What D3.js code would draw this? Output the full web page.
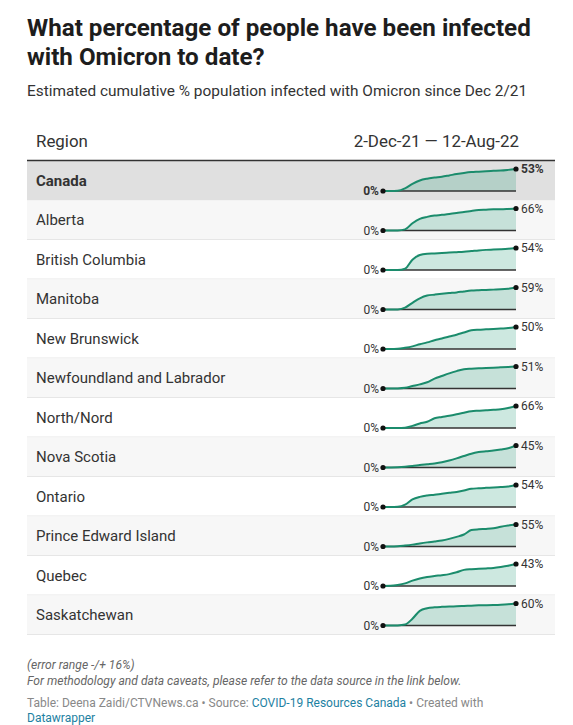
<!DOCTYPE html>
<html>
<head>
<meta charset="utf-8">
<script src="https://cdn.jsdelivr.net/npm/d3@7"></script>
<style>
  html, body { margin: 0; padding: 0; background: #fff; }
  svg { display: block; font-family: Roboto, "Noto Sans", sans-serif; }
</style>
</head>
<body>
<svg id="chart" width="573" height="725"></svg>
<script>
// ---- Data ----
const dates = ["2021-12-02","2021-12-16","2021-12-30","2022-01-13","2022-01-27","2022-02-10","2022-02-24",
  "2022-03-10","2022-03-24","2022-04-07","2022-04-21","2022-05-05","2022-05-19","2022-06-02","2022-06-16",
  "2022-06-30","2022-07-14","2022-07-28","2022-08-12"];

const regions = ["Canada","Alberta","British Columbia","Manitoba","New Brunswick","Newfoundland and Labrador",
  "North/Nord","Nova Scotia","Ontario","Prince Edward Island","Quebec","Saskatchewan"];

const canada      = [0,0,0.5,6.4,17,25.4,29.7,32.3,34.5,37.6,40.8,43.5,45.6,46.6,47.7,48.5,49.3,50.9,53];
const alberta     = [0,0,0,3.3,21.8,35,40.9,44.9,46.9,49.8,52.8,55.4,58.7,61.4,62.4,63.4,63.7,64.7,66];
const bc          = [0,0,0,3.2,25.4,36.7,40,40.8,41.9,42.7,43.7,44.8,46.4,48.1,49.4,50.2,51,52.1,54];
const manitoba    = [0,0,0.3,5,18,30,37.5,39.8,42,44,45.9,48.5,50.8,51.8,52.5,53.3,54,55.7,59];
const newBrunswick= [0,0,0.5,2.8,6,10.8,15,19.9,24,28.5,32.4,37.5,42.5,44,44.8,45.6,46.6,47.5,50];
const newfoundland= [0,0,0.2,1.5,5.6,9.6,14.5,22.8,29,35,40.3,44.8,46,46.9,47.6,48.3,49,49.8,51];
const north       = [0,0,0,0.8,6.4,13.5,18.6,29.2,33,36.5,41,46,50.5,51.8,53.1,54.5,56.2,60,66];
const novaScotia  = [0,0.2,0.6,1.5,2.9,5,6.7,8.4,10.8,14.4,18.7,23.5,28.3,31.5,33.3,34.8,36.8,39.3,45];
const ontario     = [0,0,0.5,5.6,18.5,24.8,28.1,30,32.5,34.8,36.9,40.5,44.6,46,47,47.9,49,50.5,54];
const pei         = [0,0,0.5,2.4,4.7,7.7,10.3,12.5,15,19,24,30,41,43,43.9,45.5,49.5,52.5,55];
const quebec      = [0,0.3,2,5.1,10.5,14.8,17.7,19.6,21.2,23.2,26.8,31.5,32.8,33.5,34.3,35.3,37.2,39.6,43];
const saskatchewan= [0,0,0.3,2.5,18.5,40,47,49.5,50.8,51.7,52.4,53.3,54,54.9,55.4,56,56.8,58,60];

const seriesList = [canada, alberta, bc, manitoba, newBrunswick, newfoundland, north, novaScotia,
  ontario, pei, quebec, saskatchewan];

const titleLines = ["What percentage of people have been infected", "with Omicron to date?"];
const subtitle = "Estimated cumulative % population infected with Omicron since Dec 2/21";
const headerLeft = "Region";
const headerRight = "2-Dec-21 \u2014 12-Aug-22";
const notes = ["(error range -/+ 16%)", "For methodology and data caveats, please refer to the data source in the link below."];

// ---- Drawing ----
const svg = d3.select("#chart");
const parse = d3.timeParse("%Y-%m-%d");
const dateObjs = dates.map(parse);

const left = 27, right = 555;

svg.selectAll("text.title").data(titleLines).join("text")
  .attr("class","title")
  .attr("x", left).attr("y", (d,i) => 36 + i*29)
  .attr("font-size", 24.2).attr("font-weight", 700).attr("fill", "#1d1d1d")
  .text(d => d);

svg.append("text").attr("x", left).attr("y", 96)
  .attr("font-size", 15.4).attr("fill", "#333").text(subtitle);

svg.append("text").attr("x", 36).attr("y", 147)
  .attr("font-size", 16.9).attr("fill", "#333").text(headerLeft);
svg.append("text").attr("x", 519).attr("y", 147).attr("text-anchor","end")
  .attr("font-size", 16.9).attr("fill", "#333").text(headerRight);

const tableTop = 161, rowH = 39.5;
const x = d3.scaleTime().domain(d3.extent(dateObjs)).range([383, 516]);

const rows = svg.selectAll("g.row").data(regions.map((name,i) => ({name, vals: seriesList[i], i})))
  .join("g").attr("class","row")
  .attr("transform", d => `translate(0,${tableTop + d.i*rowH})`);

rows.append("rect")
  .attr("x", left).attr("y", 0).attr("width", right-left).attr("height", rowH)
  .attr("fill", d => d.i === 0 ? "#e0e0e0" : (d.i % 2 === 1 ? "#f7f7f7" : "#ffffff"));

rows.filter(d => d.i > 0).append("line")
  .attr("x1", left).attr("x2", right).attr("y1", rowH - 0.5).attr("y2", rowH - 0.5)
  .attr("stroke", "#e6e6e6").attr("stroke-width", 1);

rows.append("text")
  .attr("x", 36).attr("y", 24.5)
  .attr("font-size", 15).attr("fill", "#333")
  .attr("font-weight", d => d.i === 0 ? 700 : 400)
  .text(d => d.name);

rows.each(function(d) {
  const g = d3.select(this);
  const maxV = d3.max(d.vals);
  const y = d3.scaleLinear().domain([0, maxV]).range([30, 8]);
  const pts = d.vals.map((v,k) => [dateObjs[k], v]);
  const area = d3.area().x(p => x(p[0])).y0(y(0)).y1(p => y(p[1])).curve(d3.curveMonotoneX);
  const line = d3.line().x(p => x(p[0])).y(p => y(p[1])).curve(d3.curveMonotoneX);
  g.append("path").attr("d", area(pts)).attr("fill", "rgba(27,150,115,0.22)");
  g.append("line").attr("x1", x(dateObjs[0])).attr("x2", x(dateObjs[dateObjs.length-1]))
    .attr("y1", y(0)).attr("y2", y(0)).attr("stroke", "#333").attr("stroke-width", 1.3);
  g.append("path").attr("d", line(pts)).attr("fill", "none")
    .attr("stroke", "#1b8c6c").attr("stroke-width", 2);
  const first = pts[0], last = pts[pts.length-1];
  g.append("circle").attr("cx", x(first[0])).attr("cy", y(first[1])).attr("r", 2.6).attr("fill", "#111");
  g.append("circle").attr("cx", x(last[0])).attr("cy", y(last[1])).attr("r", 2.6).attr("fill", "#111");
  const fw = d.i === 0 ? 700 : 400;
  g.append("text").attr("x", x(first[0]) - 4).attr("y", y(first[1])).attr("dy", "0.35em")
    .attr("text-anchor", "end").attr("font-size", 12).attr("font-weight", fw).attr("fill", "#333")
    .text(d3.format(".0f")(first[1]) + "%");
  g.append("text").attr("x", x(last[0]) + 5).attr("y", y(last[1])).attr("dy", "0.35em")
    .attr("font-size", 12).attr("font-weight", fw).attr("fill", "#333")
    .text(d3.format(".0f")(last[1]) + "%");
});

svg.append("line").attr("x1", left).attr("x2", right).attr("y1", tableTop - 0.5).attr("y2", tableTop - 0.5)
  .attr("stroke", "#333").attr("stroke-width", 1.5);

svg.selectAll("text.note").data(notes).join("text").attr("class","note")
  .attr("x", left).attr("y", (d,i) => 669 + i*16)
  .attr("font-size", 12.1).attr("font-style","italic").attr("fill", "#666").text(d => d);

const byline = svg.append("text").attr("x", left).attr("y", 707).attr("font-size", 12).attr("fill", "#888");
byline.append("tspan").text("Table: Deena Zaidi/CTVNews.ca \u2022 Source: ");
byline.append("tspan").attr("fill", "#1d81a2").text("COVID-19 Resources Canada");
byline.append("tspan").text(" \u2022 Created with");
svg.append("text").attr("x", left).attr("y", 722).attr("font-size", 12).attr("fill", "#1d81a2").text("Datawrapper");
</script>
</body>
</html>
